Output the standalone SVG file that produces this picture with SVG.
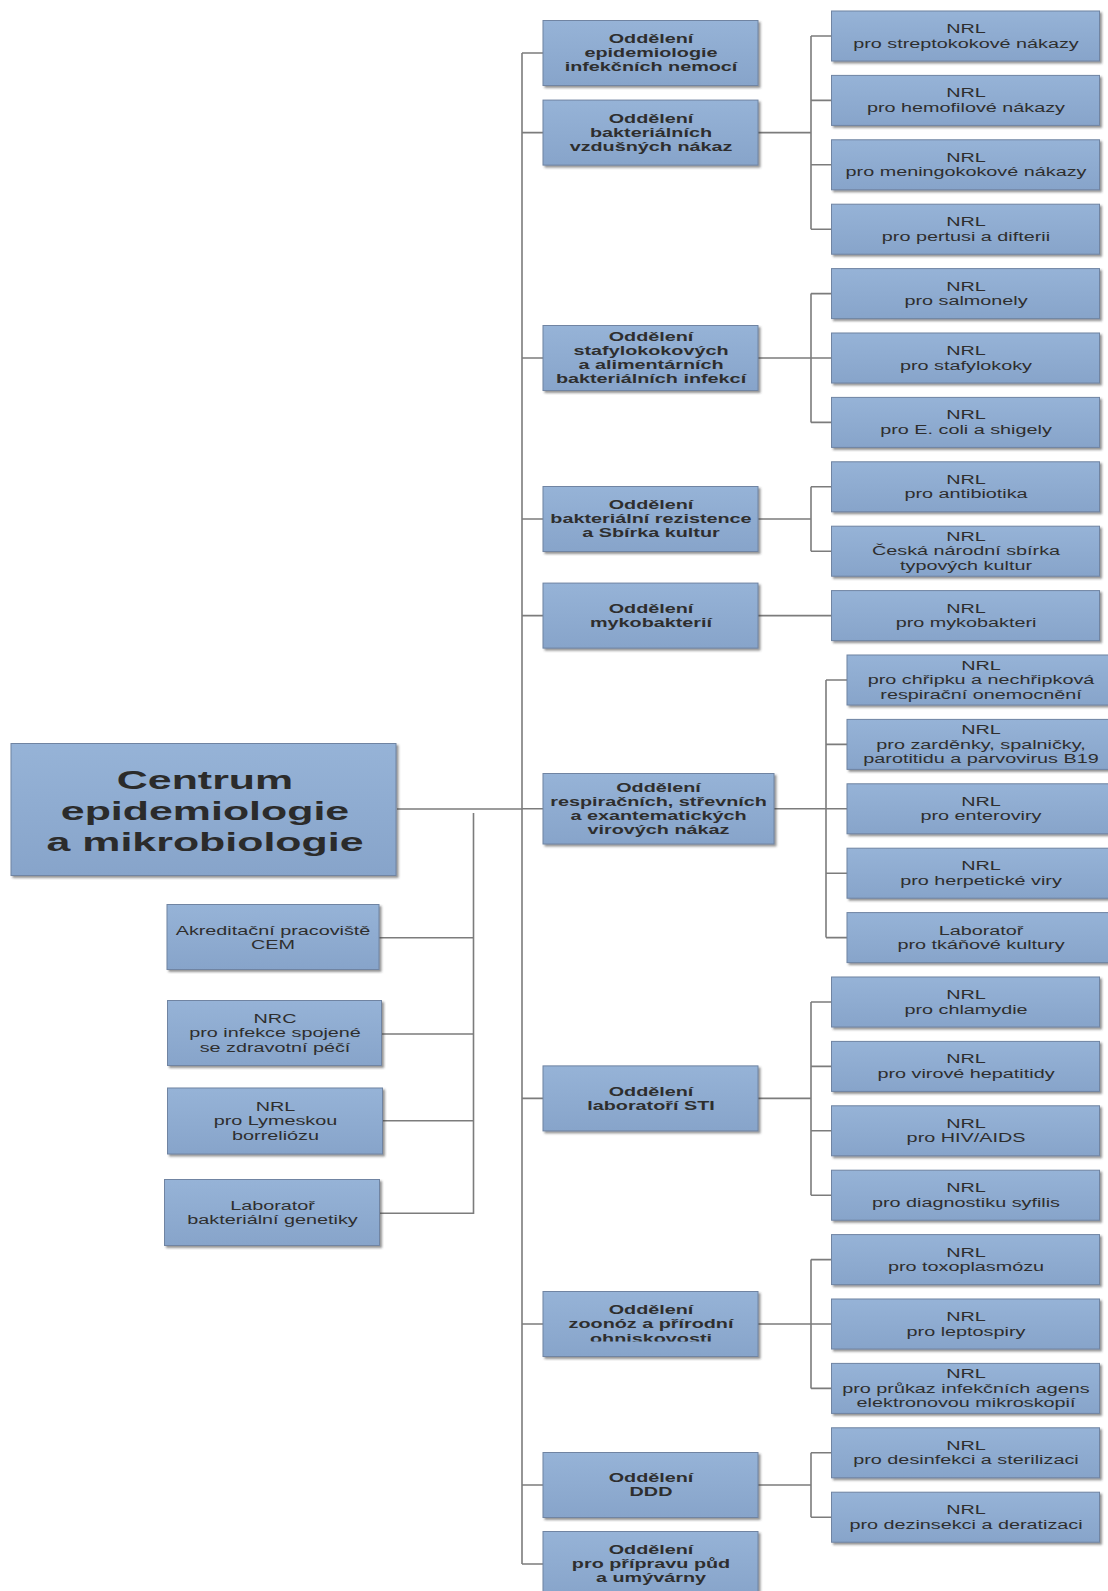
<svg xmlns="http://www.w3.org/2000/svg" width="1108" height="1591" viewBox="0 0 1108 1591">
<style>
.box{fill:url(#bg);stroke:#6f84a2;stroke-width:1;filter:url(#sh)}
.t{font-family:"Liberation Sans",Arial,sans-serif;font-size:12px;fill:#2e2e2e;text-anchor:middle}
.b{font-weight:bold}
.title{font-family:"Liberation Sans",Arial,sans-serif;font-size:26px;font-weight:bold;fill:#2b2b2b;text-anchor:middle}
.ln{fill:none;stroke:#7c7c7c;stroke-width:1.6}
</style>
<defs>
<linearGradient id="bg" x1="0" y1="0" x2="0" y2="1">
<stop offset="0" stop-color="#96b3d7"/>
<stop offset="1" stop-color="#87a4ca"/>
</linearGradient>
<filter id="sh" x="-5%" y="-5%" width="115%" height="125%">
<feDropShadow dx="2" dy="2" stdDeviation="1" flood-color="#3a3a3a" flood-opacity="0.55"/>
</filter>
<clipPath id="clip8"><rect x="543" y="1291" width="215" height="50.5"/></clipPath>
</defs>
<rect width="1108" height="1591" fill="#ffffff"/>
<g id="connectors">
<path class="ln" d="M522 53V1564M522 53H543M522 132.6H543M522 358H543M522 519H543M522 615.6H543M522 808.8H543M522 1098.4H543M522 1324H543M522 1485H543M522 1564H543M397 809H522"/>
<path class="ln" d="M473.5 813V1214M379 937.7H473.5M382 1034H473.5M383 1120.7H473.5M380 1213.3H473.5"/>
<path class="ln" d="M758 132.6H811M811 36V229.2M811 36H831.5M811 100.4H831.5M811 164.8H831.5M811 229.2H831.5"/>
<path class="ln" d="M758 358H811M811 293.6V422.4M811 293.6H831.5M811 358H831.5M811 422.4H831.5"/>
<path class="ln" d="M758 519H811M811 486.8V551.2M811 486.8H831.5M811 551.2H831.5"/>
<path class="ln" d="M758 615.6H831.5"/>
<path class="ln" d="M774 808.8H826M826 680V937.6M826 680H847M826 744.4H847M826 808.8H847M826 873.2H847M826 937.6H847"/>
<path class="ln" d="M758 1098.4H811M811 1002V1195.2M811 1002H831.5M811 1066.4H831.5M811 1130.8H831.5M811 1195.2H831.5"/>
<path class="ln" d="M758 1324H811M811 1259.6V1388.4M811 1259.6H831.5M811 1324H831.5M811 1388.4H831.5"/>
<path class="ln" d="M758 1485H811M811 1452.8V1517.2M811 1452.8H831.5M811 1517.2H831.5"/>
</g>

<g id="root">
<rect class="box" x="11" y="743.5" width="385" height="132"/>
<text class="title" transform="matrix(1.65 0 0 1 205 0)"><tspan x="0" y="789">Centrum</tspan><tspan x="0" y="819.8">epidemiologie</tspan><tspan x="0" y="850.6">a mikrobiologie</tspan></text>
</g>

<g id="left1"><rect class="box" x="167" y="904.5" width="212" height="65"/>
<text class="t" transform="matrix(1.65 0 0 1 273 0)"><tspan x="0" y="934.6">Akreditační pracoviště</tspan><tspan x="0" y="949.1">CEM</tspan></text></g>
<g id="left2"><rect class="box" x="167.5" y="1000.5" width="214" height="65"/>
<text class="t" transform="matrix(1.65 0 0 1 275 0)"><tspan x="0" y="1022.8">NRC</tspan><tspan x="0" y="1037.3">pro infekce spojené</tspan><tspan x="0" y="1051.8">se zdravotní péčí</tspan></text></g>
<g id="left3"><rect class="box" x="167.5" y="1088" width="215" height="66"/>
<text class="t" transform="matrix(1.65 0 0 1 275.5 0)"><tspan x="0" y="1110.8">NRL</tspan><tspan x="0" y="1125.3">pro Lymeskou</tspan><tspan x="0" y="1139.8">borreliózu</tspan></text></g>
<g id="left4"><rect class="box" x="164.5" y="1179.5" width="215" height="66"/>
<text class="t" transform="matrix(1.65 0 0 1 272.5 0)"><tspan x="0" y="1209.6">Laboratoř</tspan><tspan x="0" y="1224.1">bakteriální genetiky</tspan></text></g>

<g id="dept1"><rect class="box" x="543" y="20.5" width="215" height="65"/>
<text class="t b" transform="matrix(1.65 0 0 1 651 0)"><tspan x="0" y="43.3">Oddělení</tspan><tspan x="0" y="57.3">epidemiologie</tspan><tspan x="0" y="71.3">infekčních nemocí</tspan></text></g>
<g id="dept2"><rect class="box" x="543" y="100.1" width="215" height="65"/>
<text class="t b" transform="matrix(1.65 0 0 1 651 0)"><tspan x="0" y="122.9">Oddělení</tspan><tspan x="0" y="136.9">bakteriálních</tspan><tspan x="0" y="150.9">vzdušných nákaz</tspan></text></g>
<g id="dept3"><rect class="box" x="543" y="325.5" width="215" height="65"/>
<text class="t b" transform="matrix(1.65 0 0 1 651 0)"><tspan x="0" y="341.3">Oddělení</tspan><tspan x="0" y="355.1">stafylokokových</tspan><tspan x="0" y="368.9">a alimentárních</tspan><tspan x="0" y="382.7">bakteriálních infekcí</tspan></text></g>
<g id="dept4"><rect class="box" x="543" y="486.5" width="215" height="65"/>
<text class="t b" transform="matrix(1.65 0 0 1 651 0)"><tspan x="0" y="509.3">Oddělení</tspan><tspan x="0" y="523.3">bakteriální rezistence</tspan><tspan x="0" y="537.3">a Sbírka kultur</tspan></text></g>
<g id="dept5"><rect class="box" x="543" y="583.1" width="215" height="65"/>
<text class="t b" transform="matrix(1.65 0 0 1 651 0)"><tspan x="0" y="612.9">Oddělení</tspan><tspan x="0" y="626.9">mykobakterií</tspan></text></g>
<g id="dept6"><rect class="box" x="543" y="773.5" width="231" height="70.5"/>
<text class="t b" transform="matrix(1.65 0 0 1 658.5 0)"><tspan x="0" y="792.1">Oddělení</tspan><tspan x="0" y="806">respiračních, střevních</tspan><tspan x="0" y="819.8">a exantematických</tspan><tspan x="0" y="833.6">virových nákaz</tspan></text></g>
<g id="dept7"><rect class="box" x="543" y="1065.9" width="215" height="65"/>
<text class="t b" transform="matrix(1.65 0 0 1 651 0)"><tspan x="0" y="1095.7">Oddělení</tspan><tspan x="0" y="1109.7">laboratoří STI</tspan></text></g>
<g id="dept8"><rect class="box" x="543" y="1291.5" width="215" height="65"/>
<g clip-path="url(#clip8)"><text class="t b" transform="matrix(1.65 0 0 1 651 0)"><tspan x="0" y="1314.3">Oddělení</tspan><tspan x="0" y="1328.3">zoonóz a přírodní</tspan><tspan x="0" y="1342.8">ohniskovosti</tspan></text></g></g>
<g id="dept9"><rect class="box" x="543" y="1452.5" width="215" height="65"/>
<text class="t b" transform="matrix(1.65 0 0 1 651 0)"><tspan x="0" y="1482.3">Oddělení</tspan><tspan x="0" y="1496.3">DDD</tspan></text></g>
<g id="dept10"><rect class="box" x="543" y="1531.5" width="215" height="65"/>
<text class="t b" transform="matrix(1.65 0 0 1 651 0)"><tspan x="0" y="1554.3">Oddělení</tspan><tspan x="0" y="1568.3">pro přípravu půd</tspan><tspan x="0" y="1582.3">a umývárny</tspan></text></g>

<g id="nrl0"><rect class="box" x="831.5" y="11" width="268" height="50"/>
<text class="t" transform="matrix(1.65 0 0 1 966 0)"><tspan x="0" y="33.1">NRL</tspan><tspan x="0" y="47.6">pro streptokokové nákazy</tspan></text></g>
<g id="nrl1"><rect class="box" x="831.5" y="75.4" width="268" height="50"/>
<text class="t" transform="matrix(1.65 0 0 1 966 0)"><tspan x="0" y="97.5">NRL</tspan><tspan x="0" y="112">pro hemofilové nákazy</tspan></text></g>
<g id="nrl2"><rect class="box" x="831.5" y="139.8" width="268" height="50"/>
<text class="t" transform="matrix(1.65 0 0 1 966 0)"><tspan x="0" y="161.9">NRL</tspan><tspan x="0" y="176.4">pro meningokokové nákazy</tspan></text></g>
<g id="nrl3"><rect class="box" x="831.5" y="204.2" width="268" height="50"/>
<text class="t" transform="matrix(1.65 0 0 1 966 0)"><tspan x="0" y="226.3">NRL</tspan><tspan x="0" y="240.8">pro pertusi a difterii</tspan></text></g>
<g id="nrl4"><rect class="box" x="831.5" y="268.6" width="268" height="50"/>
<text class="t" transform="matrix(1.65 0 0 1 966 0)"><tspan x="0" y="290.7">NRL</tspan><tspan x="0" y="305.2">pro salmonely</tspan></text></g>
<g id="nrl5"><rect class="box" x="831.5" y="333" width="268" height="50"/>
<text class="t" transform="matrix(1.65 0 0 1 966 0)"><tspan x="0" y="355.1">NRL</tspan><tspan x="0" y="369.6">pro stafylokoky</tspan></text></g>
<g id="nrl6"><rect class="box" x="831.5" y="397.4" width="268" height="50"/>
<text class="t" transform="matrix(1.65 0 0 1 966 0)"><tspan x="0" y="419.5">NRL</tspan><tspan x="0" y="434">pro E. coli a shigely</tspan></text></g>
<g id="nrl7"><rect class="box" x="831.5" y="461.8" width="268" height="50"/>
<text class="t" transform="matrix(1.65 0 0 1 966 0)"><tspan x="0" y="483.9">NRL</tspan><tspan x="0" y="498.4">pro antibiotika</tspan></text></g>
<g id="nrl8"><rect class="box" x="831.5" y="526.2" width="268" height="50"/>
<text class="t" transform="matrix(1.65 0 0 1 966 0)"><tspan x="0" y="541">NRL</tspan><tspan x="0" y="555.5">Česká národní sbírka</tspan><tspan x="0" y="570">typových kultur</tspan></text></g>
<g id="nrl9"><rect class="box" x="831.5" y="590.6" width="268" height="50"/>
<text class="t" transform="matrix(1.65 0 0 1 966 0)"><tspan x="0" y="612.7">NRL</tspan><tspan x="0" y="627.2">pro mykobakteri</tspan></text></g>
<g id="nrl10"><rect class="box" x="847" y="655" width="268" height="50"/>
<text class="t" transform="matrix(1.65 0 0 1 981 0)"><tspan x="0" y="669.8">NRL</tspan><tspan x="0" y="684.3">pro chřipku a nechřipková</tspan><tspan x="0" y="698.8">respirační onemocnění</tspan></text></g>
<g id="nrl11"><rect class="box" x="847" y="719.4" width="268" height="50"/>
<text class="t" transform="matrix(1.65 0 0 1 981 0)"><tspan x="0" y="734.2">NRL</tspan><tspan x="0" y="748.7">pro zarděnky, spalničky,</tspan><tspan x="0" y="763.2">parotitidu a parvovirus B19</tspan></text></g>
<g id="nrl12"><rect class="box" x="847" y="783.8" width="268" height="50"/>
<text class="t" transform="matrix(1.65 0 0 1 981 0)"><tspan x="0" y="805.9">NRL</tspan><tspan x="0" y="820.4">pro enteroviry</tspan></text></g>
<g id="nrl13"><rect class="box" x="847" y="848.2" width="268" height="50"/>
<text class="t" transform="matrix(1.65 0 0 1 981 0)"><tspan x="0" y="870.3">NRL</tspan><tspan x="0" y="884.8">pro herpetické viry</tspan></text></g>
<g id="nrl14"><rect class="box" x="847" y="912.6" width="268" height="50"/>
<text class="t" transform="matrix(1.65 0 0 1 981 0)"><tspan x="0" y="934.7">Laboratoř</tspan><tspan x="0" y="949.2">pro tkáňové kultury</tspan></text></g>
<g id="nrl15"><rect class="box" x="831.5" y="977" width="268" height="50"/>
<text class="t" transform="matrix(1.65 0 0 1 966 0)"><tspan x="0" y="999.1">NRL</tspan><tspan x="0" y="1013.6">pro chlamydie</tspan></text></g>
<g id="nrl16"><rect class="box" x="831.5" y="1041.4" width="268" height="50"/>
<text class="t" transform="matrix(1.65 0 0 1 966 0)"><tspan x="0" y="1063.5">NRL</tspan><tspan x="0" y="1078">pro virové hepatitidy</tspan></text></g>
<g id="nrl17"><rect class="box" x="831.5" y="1105.8" width="268" height="50"/>
<text class="t" transform="matrix(1.65 0 0 1 966 0)"><tspan x="0" y="1127.9">NRL</tspan><tspan x="0" y="1142.4">pro HIV/AIDS</tspan></text></g>
<g id="nrl18"><rect class="box" x="831.5" y="1170.2" width="268" height="50"/>
<text class="t" transform="matrix(1.65 0 0 1 966 0)"><tspan x="0" y="1192.3">NRL</tspan><tspan x="0" y="1206.8">pro diagnostiku syfilis</tspan></text></g>
<g id="nrl19"><rect class="box" x="831.5" y="1234.6" width="268" height="50"/>
<text class="t" transform="matrix(1.65 0 0 1 966 0)"><tspan x="0" y="1256.7">NRL</tspan><tspan x="0" y="1271.2">pro toxoplasmózu</tspan></text></g>
<g id="nrl20"><rect class="box" x="831.5" y="1299" width="268" height="50"/>
<text class="t" transform="matrix(1.65 0 0 1 966 0)"><tspan x="0" y="1321.1">NRL</tspan><tspan x="0" y="1335.6">pro leptospiry</tspan></text></g>
<g id="nrl21"><rect class="box" x="831.5" y="1363.4" width="268" height="50"/>
<text class="t" transform="matrix(1.65 0 0 1 966 0)"><tspan x="0" y="1378.2">NRL</tspan><tspan x="0" y="1392.7">pro průkaz infekčních agens</tspan><tspan x="0" y="1407.2">elektronovou mikroskopií</tspan></text></g>
<g id="nrl22"><rect class="box" x="831.5" y="1427.8" width="268" height="50"/>
<text class="t" transform="matrix(1.65 0 0 1 966 0)"><tspan x="0" y="1449.9">NRL</tspan><tspan x="0" y="1464.4">pro desinfekci a sterilizaci</tspan></text></g>
<g id="nrl23"><rect class="box" x="831.5" y="1492.2" width="268" height="50"/>
<text class="t" transform="matrix(1.65 0 0 1 966 0)"><tspan x="0" y="1514.3">NRL</tspan><tspan x="0" y="1528.8">pro dezinsekci a deratizaci</tspan></text></g>
</svg>
